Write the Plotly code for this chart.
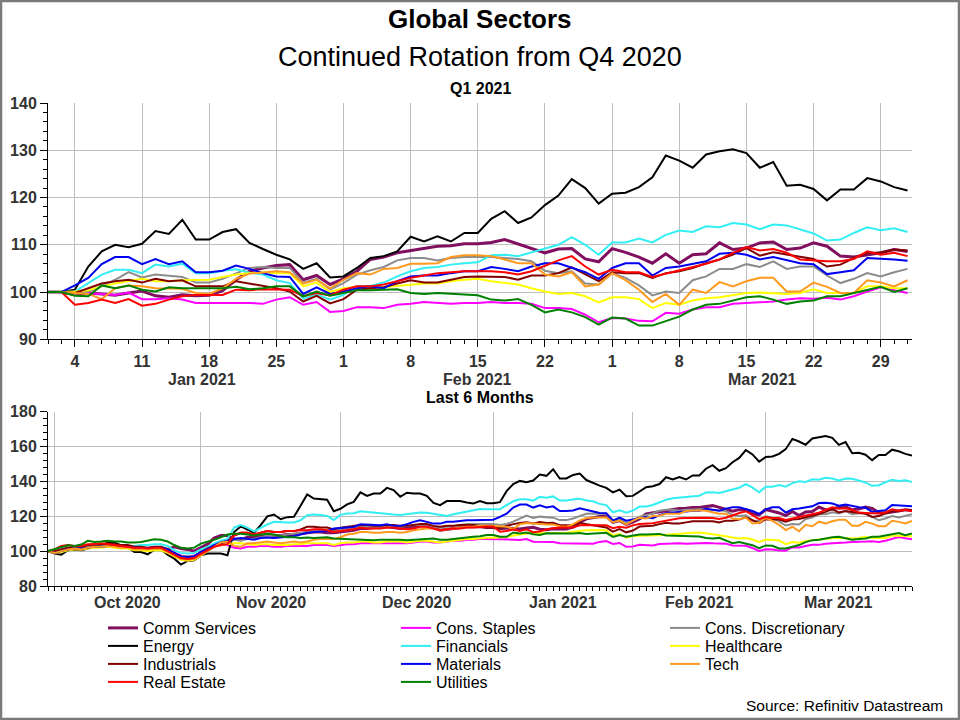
import pandas as pd
import plotly.graph_objects as go

# ---------------- dates (weekday data, Datastream style) ----------------
q1_dates = pd.bdate_range("2020-12-31", "2021-03-31")   # Q1 2021 panel
m6_dates = pd.bdate_range("2020-09-30", "2021-03-31")   # last 6 months panel

sectors = ["Comm Services", "Cons. Staples", "Cons. Discretionary",
           "Energy", "Financials", "Healthcare",
           "Industrials", "Materials", "Tech",
           "Real Estate", "Utilities"]
colors = ["#80105F", "#FF00FF", "#8C8C8C",
          "#000000", "#33EEF2", "#FFFF00",
          "#800000", "#0000F0", "#FF9A1E",
          "#FF0000", "#008000"]

# ---------------- Q1 2021 (rebased 31 Dec 2020 = 100) ----------------
comm_q1 = [100, 100, 99.5, 99.8, 99.6, 99.3, 99.8, 100.2, 99.2, 98.9,
           99.4, 99.2, 99.3, 100.3, 102.6, 104.4, 105.1, 105.6, 105.8, 102.6,
           103.5, 101.6, 102.8, 104.4, 106.9, 107.4, 108.3, 108.8, 109.3, 109.7,
           109.8, 110.2, 110.2, 110.5, 111.1, 110.2, 109.3, 108.3, 109.1, 109.2,
           107, 106.4, 109.2, 108.4, 107.4, 106.1, 108.1, 106.1, 107.9, 108.1,
           110.4, 109, 109.3, 110.4, 110.6, 109, 109.3, 110.4, 109.7, 107.6,
           107.4, 107.9, 108.3, 109, 108.6]
staples_q1 = [100, 100, 99.8, 99.8, 99.6, 99.4, 99.9, 98.5, 98.5, 98.7,
              98.4, 97.7, 97.7, 97.7, 97.7, 97.7, 97.5, 98.4, 98.9, 97.3,
              97.9, 95.8, 96, 96.8, 96.8, 96.6, 97.3, 97.5, 97.9, 97.7,
              97.5, 97.7, 97.7, 97.9, 97.7, 97.7, 97.5, 96.6, 96.6, 96.4,
              95.2, 93.6, 94.5, 94.4, 93.9, 93.8, 95.6, 95.4, 96.3, 96.8,
              96.8, 97.5, 97.7, 97.8, 98, 98.4, 98.7, 98.6, 98.8, 98.4,
              99.1, 100.1, 101, 100.4, 99.8]
disc_q1 = [100, 100, 99.6, 100.1, 101.2, 102.6, 104.2, 103.1, 103.7, 103.5,
           103.2, 102, 102, 102.8, 104, 105.1, 105.3, 105.1, 105.1, 102,
           102.8, 100.5, 101.9, 103.7, 104.6, 105.3, 106.7, 107.2, 107.2, 106.7,
           107.2, 107.4, 107.4, 107.4, 107.2, 107, 106.5, 104.5, 104, 104.4,
           101.8, 101.6, 104, 103, 101.4, 99.3, 100.1, 99.8, 102.5, 103.3,
           104.9, 104.9, 105.9, 105.3, 106.5, 104.9, 105.4, 105.4, 103.5, 101.9,
           102.8, 104, 103.3, 104.2, 104.9]
energy_q1 = [100, 100, 100.5, 105.4, 108.6, 110, 109.5, 110.2, 112.9, 112.3,
             115.3, 111.1, 111.1, 112.7, 113.3, 110.4, 109.1, 107.9, 106.9, 104.9,
             106.1, 103.1, 103.3, 105.1, 107.2, 107.6, 108.6, 111.7, 110.7, 111.8,
             110.7, 112.5, 112.5, 115.5, 117.1, 114.6, 115.8, 118.4, 120.4, 123.9,
             122, 118.7, 120.8, 121, 122.2, 124.3, 128.9, 127.8, 126.3, 129.1,
             129.8, 130.2, 129.4, 126.3, 127.5, 122.5, 122.7, 121.8, 119.4, 121.7,
             121.7, 124.1, 123.4, 122.2, 121.5]
fin_q1 = [100, 100, 100.1, 101.9, 103.7, 104.7, 104.7, 104, 105.8, 105.4,
          106, 104, 104, 104.5, 104.8, 104.1, 103.7, 102.5, 101.9, 98.6,
          99.5, 98.4, 99.4, 101.3, 101.3, 102, 103.3, 104.4, 105.1, 105.3,
          105.8, 106.1, 106.3, 107.8, 107.9, 107.6, 108.4, 109.2, 110, 111.6,
          110, 107.9, 110.5, 110.5, 111.3, 110.5, 112.1, 113, 112.7, 113.9,
          113.7, 114.6, 114.3, 113.3, 114.3, 114.1, 113.2, 112.4, 110.9, 111.1,
          112.5, 113.7, 113.1, 113.5, 112.7]
health_q1 = [100, 100, 100.1, 100.4, 101.2, 101.8, 102.3, 102.8, 102.3, 102.3,
             102.5, 102.6, 102.6, 103.2, 103.7, 104, 104.2, 104, 104, 101.2,
             102, 100, 100.8, 101, 101, 101, 101.3, 101.6, 101.8, 101.8,
             102.3, 102.6, 102.8, 102.3, 101.9, 101.6, 100.8, 100.1, 99.6, 99.8,
             99.1, 97.8, 98.9, 98.9, 98.5, 96.6, 97.7, 97.3, 98.2, 98.7,
             98.9, 99.4, 99.8, 99.9, 99.8, 99.6, 99.8, 100.6, 99.8, 99.8,
             99.8, 101.2, 101.2, 100.8, 100.8]
ind_q1 = [100, 100, 99.8, 100.8, 101.8, 102.3, 102.6, 102, 102.8, 102.3,
          102.5, 101.2, 101.2, 101.2, 102.3, 101.8, 101.4, 100.8, 100.1, 98,
          99.2, 97.6, 98.5, 100.5, 100.8, 101, 101.8, 102.5, 102, 102,
          102.6, 103.2, 103.3, 103.3, 103.2, 102.6, 103.5, 103.5, 104, 105.2,
          103.7, 102.3, 104.2, 104, 104, 103, 104, 104.4, 105.1, 106.1,
          106.9, 107.9, 109.3, 107.7, 108.4, 107.9, 107.4, 107, 105.4, 105.8,
          107.2, 108.3, 108.3, 109, 108.8]
mat_q1 = [100, 100, 101.4, 103, 105.9, 107.4, 107.4, 105.9, 107, 105.9,
          106.5, 104.2, 104.2, 104.5, 105.6, 104.9, 104, 103.3, 103.2, 99.6,
          101, 99.6, 100.1, 100.8, 101.2, 100.8, 102.3, 103.3, 103.5, 103.5,
          104, 104.4, 104.4, 105.3, 104.9, 104.4, 105.4, 106.1, 106.1, 105.1,
          104.2, 102.8, 105.1, 106.1, 106.1, 103.5, 105.1, 105.4, 105.9, 106.5,
          108.1, 108.3, 107.9, 106.9, 107.4, 106.7, 106.1, 105.9, 103.8, 104.2,
          104.6, 107.2, 107.1, 106.9, 106.6]
tech_q1 = [100, 100, 99.8, 99.6, 98.5, 100.8, 101.4, 101.2, 100.8, 100.7,
           100.7, 99.8, 99.6, 100.8, 102.8, 103.9, 104.2, 104.4, 104.2, 101.8,
           102.6, 100.8, 102.6, 104, 103.7, 104.9, 105.1, 106, 106, 106.1,
           107.4, 107.8, 107.8, 107.6, 106.9, 106.1, 106.1, 103.7, 103.3, 104.2,
           101.2, 101.6, 104, 102.5, 100.5, 97.9, 99.6, 97.3, 100.5, 99.8,
           102.1, 101.2, 102.3, 103, 103, 100.1, 100.1, 102, 101.1, 99.8,
           99.8, 102.5, 102, 101.2, 102.5]
re_q1 = [100, 100, 97.3, 97.7, 98.4, 97.7, 98.5, 97.1, 97.5, 98.4,
         99.1, 99.4, 99.4, 99.4, 100.5, 100.4, 100.6, 100.6, 100.5, 99.1,
         99.8, 99.3, 100.5, 101.2, 101.2, 101.6, 102.3, 103, 103.5, 104,
         104.2, 104.4, 104.4, 104.4, 104.2, 103.7, 104.4, 105.6, 106.7, 107.6,
         105.4, 103.7, 104.7, 104.2, 104.2, 103.2, 103.9, 104.6, 105.3, 106,
         106.9, 108.3, 109.5, 108.8, 109.1, 108.3, 106.9, 106.7, 106.5, 106.5,
         107, 108.6, 107.9, 108.3, 107.6]
util_q1 = [100, 100, 99.2, 99.1, 101.4, 100.8, 101.4, 100.5, 100.1, 101,
           100.8, 100.8, 100.8, 100.8, 101.1, 100.6, 100.8, 101.2, 101.2, 99.1,
           100.1, 99.2, 99.8, 100.4, 100.4, 100.5, 100.6, 99.8, 99.6, 99.8,
           99.6, 99.4, 99.3, 98.4, 98.2, 98.5, 97.3, 95.7, 96.3, 95.7,
           94.7, 93.1, 94.6, 94.4, 92.9, 92.9, 93.9, 94.8, 96.3, 97.3,
           97.5, 98.2, 98.9, 99.1, 98.4, 97.5, 98, 98.2, 99.1, 99.1,
           99.8, 100.4, 101.1, 100, 100.8]

# ---------------- Last 6 months (rebased 30 Sep 2020 = 100) ----------------
comm_6m = [100, 99.5, 100.5, 101.5, 101, 101.5, 102.5, 103, 103.5, 103.5,
           103, 102.5, 102.5, 101.5, 101.5, 101.5, 102, 102, 101, 102.5,
           101.5, 101, 100, 102, 104, 107.5, 109, 109, 107, 106.5,
           108, 108, 108.5, 109.5, 109, 109, 109.5, 109.5, 110, 110.5,
           111, 111, 110.5, 110.5, 111, 111.5, 112, 113, 113, 113.5,
           113.5, 114, 113.5, 113, 113.5, 114, 114.5, 114.5, 113.5, 112,
           112.5, 113, 113.5, 114, 114, 114, 113.5,
           113.5, 112.9, 113.3, 113, 112.7, 113.3, 113.7, 112.6, 112.3, 112.8,
           112.6, 112.7, 113.8, 116.5, 118.5, 119.3, 119.9, 120.1, 116.5, 117.5,
           115.3, 116.7, 118.5, 121.3, 121.9, 122.9, 123.5, 124.1, 124.5, 124.6,
           125.1, 125.1, 125.4, 126.1, 125.1, 124.1, 122.9, 123.8, 123.9, 121.4,
           120.8, 123.9, 123, 121.9, 120.4, 122.7, 120.4, 122.5, 122.7, 125.3,
           123.7, 124.1, 125.3, 125.5, 123.7, 124.1, 125.3, 124.5, 122.1, 121.9,
           122.5, 122.9, 123.7, 123.3]
staples_6m = [100, 99.5, 100, 101, 101, 101, 102, 102.5, 102.5, 103,
              102.5, 102, 102, 101.5, 101.5, 101, 101.5, 101.5, 100.5, 99,
              97.5, 97, 97.5, 99, 100.5, 102.5, 103.5, 103.5, 102, 101.5,
              102.5, 102.5, 103, 103, 102.5, 102.5, 103, 103, 103, 103,
              103.5, 103.5, 103.5, 103, 103.5, 104, 104, 104.5, 104.5, 104.5,
              104.5, 104.5, 104.5, 104.5, 104.5, 105, 105.5, 105.5, 105, 105,
              105.5, 106, 106, 106.5, 106.5, 107, 107,
              107, 106.8, 106.8, 106.6, 106.4, 106.9, 105.4, 105.4, 105.6, 105.3,
              104.5, 104.5, 104.5, 104.5, 104.5, 104.3, 105.3, 105.8, 104.1, 104.7,
              102.5, 102.7, 103.6, 103.6, 103.3, 104.1, 104.3, 104.7, 104.5, 104.3,
              104.5, 104.5, 104.7, 104.5, 104.5, 104.3, 103.3, 103.3, 103.1, 101.8,
              100.1, 101.1, 101, 100.4, 100.3, 102.3, 102.1, 103, 103.6, 103.6,
              104.3, 104.5, 104.6, 104.9, 105.3, 105.6, 105.5, 105.7, 105.3, 106,
              107.1, 108.1, 107.4, 106.8]
disc_6m = [100, 99.5, 100, 101, 101.5, 101.5, 102.5, 103, 103, 103.5,
           103, 102.5, 102.5, 101.5, 101.5, 101, 101.5, 101.5, 100, 98.5,
           97, 97, 97, 99.5, 101.5, 104, 105.5, 106, 106.5, 106,
           107, 107, 108, 109, 109, 109, 109.5, 110, 110.5, 111,
           111.5, 112, 111.5, 111.5, 112.5, 113, 113, 114, 114, 114,
           114, 114.5, 114, 114, 114.5, 115, 115, 115, 114, 113.5,
           114, 114.5, 115, 115.5, 115.5, 115.5, 115.5,
           115.5, 115, 115.6, 116.9, 118.5, 120.4, 119.1, 119.8, 119.5, 119.2,
           117.8, 117.8, 118.7, 120.1, 121.4, 121.6, 121.4, 121.4, 117.8, 118.7,
           116.1, 117.7, 119.8, 120.8, 121.6, 123.2, 123.8, 123.8, 123.2, 123.8,
           124.1, 124.1, 124.1, 123.8, 123.6, 123, 120.7, 120.1, 120.6, 117.6,
           117.3, 120.1, 119, 117.1, 114.7, 115.6, 115.3, 118.4, 119.3, 121.2,
           121.2, 122.3, 121.6, 123, 121.2, 121.7, 121.7, 119.5, 117.7, 118.7,
           120.1, 119.3, 120.4, 121.2]
energy_6m = [100, 98.6, 98, 100.5, 101, 100.5, 101.5, 103, 103, 104.9,
             104.9, 103.3, 102.4, 99.5, 99.5, 98.2, 100.9, 101, 98, 95.7,
             92.3, 94.4, 94.8, 97.6, 98.6, 98.6, 98.6, 97.6, 111, 114.2,
             112.6, 110.6, 114.9, 120, 121, 118.3, 119.5, 119.7, 126, 132.5,
             130.2, 129.9, 129.5, 122.9, 124.3, 126.8, 128.3, 133.7, 131.7, 133.1,
             133.1, 136.3, 135, 131.2, 133.5, 133.1, 133.1, 131.7, 127.7, 126.4,
             128.7, 128.7, 128.7, 127.9, 127.3, 128.7, 127.5,
             127.5, 128.1, 134.4, 138.5, 140.3, 139.6, 140.5, 143.9, 143.2, 147,
             141.7, 141.7, 143.7, 144.5, 140.8, 139.1, 137.6, 136.3, 133.7, 135.3,
             131.5, 131.7, 134, 136.7, 137.2, 138.5, 142.4, 141.1, 142.5, 141.1,
             143.4, 143.4, 147.3, 149.3, 146.1, 147.6, 151, 153.5, 158, 155.5,
             151.3, 154, 154.3, 155.8, 158.5, 164.4, 162.9, 161, 164.6, 165.5,
             166, 165, 161, 162.6, 156.2, 156.4, 155.3, 152.2, 155.2, 155.2,
             158.2, 157.3, 155.8, 154.9]
fin_6m = [100, 99.5, 100.5, 101.5, 101.5, 101, 102, 102.5, 102.5, 103.5,
          103.5, 103, 103, 103, 103.5, 103.5, 104, 104, 103, 100.5,
          99, 98.6, 99, 101, 102.5, 104.5, 106, 107, 113.5, 114.9,
          113.5, 111.3, 113.3, 115.3, 116.8, 116.5, 116.4, 116.5, 117.7, 120.6,
          121, 120.8, 120.2, 117.9, 120.8, 121.6, 121.8, 122.9, 122.5, 121.8,
          121.6, 121.4, 121, 120.8, 121.3, 121.8, 122.2, 122, 121.5, 120.6,
          120.2, 121.2, 122, 122.6, 123.5, 124.2, 124,
          124, 124.1, 126.4, 128.6, 129.8, 129.8, 129, 131.2, 130.7, 131.4,
          129, 129, 129.6, 130, 129.1, 128.6, 127.1, 126.4, 122.3, 123.4,
          122, 123.3, 125.6, 125.6, 126.5, 128.1, 129.5, 130.3, 130.6, 131.2,
          131.6, 131.8, 133.7, 133.8, 133.4, 134.4, 135.4, 136.4, 138.4, 136.4,
          133.8, 137, 137, 138, 137, 139, 140.1, 139.7, 141.2, 141,
          142.1, 141.7, 140.5, 141.7, 141.5, 140.4, 139.4, 137.5, 137.8, 139.5,
          141, 140.2, 140.7, 139.7]
health_6m = [100, 99, 99.5, 100.5, 101, 101, 101.5, 102, 102, 102.5,
             102, 101.5, 101.5, 100.5, 100.5, 100, 100.5, 100.5, 99, 97,
             95, 94.5, 95, 97.5, 100, 102.5, 103.5, 104, 104.5, 104.5,
             104, 103.5, 104, 104, 103.5, 103.5, 103.5, 104, 104, 104.5,
             104.5, 104.5, 104.5, 103.5, 104.5, 105, 105, 105.5, 105.5, 105,
             105, 105.5, 105.5, 105.5, 105, 105.5, 106, 106, 105.5, 105,
             105.5, 106, 106.5, 107, 107, 107.5, 107.7,
             107.7, 107.8, 108.1, 109, 109.6, 110.2, 110.7, 110.2, 110.2, 110.4,
             110.5, 110.5, 111.1, 111.7, 112, 112.2, 112, 112, 109, 109.9,
             107.7, 108.6, 108.8, 108.8, 108.8, 109.1, 109.4, 109.6, 109.6, 110.2,
             110.5, 110.7, 110.2, 109.7, 109.4, 108.6, 107.8, 107.3, 107.5, 106.7,
             105.3, 106.5, 106.5, 106.1, 104, 105.2, 104.8, 105.8, 106.3, 106.5,
             107.1, 107.5, 107.6, 107.5, 107.3, 107.5, 108.3, 107.5, 107.5, 107.5,
             109, 109, 108.6, 108.6]
ind_6m = [100, 100, 101, 102, 102.5, 102.5, 103.5, 104, 104, 104.5,
          104, 103.5, 103.5, 102.5, 102.5, 102, 102.5, 102.5, 101, 99,
          97, 96.5, 97, 99.5, 101.5, 103, 104.5, 105.5, 109, 110.5,
          110.5, 109.5, 110.5, 111.5, 111, 111, 111.5, 111.5, 112.5, 114,
          114, 113.5, 113.5, 112.5, 113.5, 114, 114.5, 115, 115, 114.5,
          114.5, 115, 115, 114.5, 114.5, 115, 115.5, 115.5, 114.5, 114,
          114.5, 114.5, 115, 115, 115, 114.5, 113.5,
          113.5, 113.3, 114.4, 115.5, 116.1, 116.5, 115.8, 116.7, 116.1, 116.3,
          114.9, 114.9, 114.9, 116.1, 115.5, 115.1, 114.4, 113.6, 111.2, 112.6,
          110.8, 111.8, 114.1, 114.4, 114.6, 115.5, 116.3, 115.8, 115.8, 116.5,
          117.1, 117.2, 117.2, 117.1, 116.5, 117.5, 117.5, 118.1, 119.4, 117.7,
          116.1, 118.3, 118.1, 118.1, 116.9, 118.1, 118.5, 119.3, 120.4, 121.3,
          122.5, 124.1, 122.2, 123, 122.5, 121.9, 121.4, 119.6, 120.1, 121.7,
          122.9, 122.9, 123.7, 123.5]
mat_6m = [100, 99, 100, 101, 101.5, 101.5, 102, 102.5, 102.5, 103,
          103, 102.5, 102.5, 102, 102, 101.5, 102, 102, 101, 99,
          97, 96.5, 97, 99.5, 101, 103.5, 105, 106, 107, 107.5,
          107, 106.5, 107.5, 107.8, 107.5, 107.8, 108, 108.5, 109.5, 110.5,
          111, 111.2, 111.5, 113, 113.4, 113.7, 113.9, 115.4, 115.2, 114.9,
          114.9, 115.4, 114.5, 114.5, 115.4, 116.8, 117.7, 116.8, 115.8, 115.8,
          116.8, 116.8, 117.4, 117.7, 117.7, 117.7, 118,
          118, 119.7, 121.5, 125, 126.7, 126.7, 125, 126.3, 125, 125.7,
          123, 123, 123.3, 124.6, 123.8, 122.7, 121.9, 121.8, 117.5, 119.2,
          117.5, 118.1, 118.9, 119.4, 118.9, 120.7, 121.9, 122.1, 122.1, 122.7,
          123.2, 123.2, 124.3, 123.8, 123.2, 124.4, 125.2, 125.2, 124, 123,
          121.3, 124, 125.2, 125.2, 122.1, 124, 124.4, 125, 125.7, 127.6,
          127.8, 127.3, 126.1, 126.7, 125.9, 125.2, 125, 122.5, 123, 123.4,
          126.5, 126.4, 126.1, 125.8]
tech_6m = [100, 99, 100, 101, 101.5, 101, 102, 102.5, 102.5, 103,
           102.5, 102, 102, 101, 101, 101, 101.5, 101.5, 99.5, 97.5,
           95.5, 95, 95.5, 97.5, 100, 103, 105, 105.5, 103, 102.5,
           104.5, 104.5, 105, 105.5, 105, 104.5, 105, 105.5, 105, 105.5,
           106.5, 107, 107, 107, 108, 109.5, 110, 111, 111, 110.5,
           110.5, 111, 111, 110.5, 111, 112, 112.5, 113, 113, 112,
           112.5, 113, 113.5, 114, 114, 114.5, 114.5,
           114.5, 114.3, 114, 112.8, 115.4, 116.1, 115.9, 115.4, 115.3, 115.3,
           114.3, 114, 115.4, 117.7, 119, 119.3, 119.5, 119.3, 116.6, 117.5,
           115.4, 117.5, 119.1, 118.7, 120.1, 120.3, 121.4, 121.4, 121.5, 123,
           123.4, 123.4, 123.2, 122.4, 121.5, 121.5, 118.7, 118.3, 119.3, 115.9,
           116.3, 119.1, 117.4, 115.1, 112.1, 114, 111.4, 115.1, 114.3, 116.9,
           115.9, 117.1, 118, 118, 114.6, 114.6, 116.8, 115.8, 114.3, 114.3,
           117.4, 116.8, 115.9, 117.4]
re_6m = [100, 101, 103, 103.5, 103, 103, 104, 104, 104.5, 104,
         103.5, 103, 102.5, 102, 102, 101.5, 102, 102, 100, 98,
         96, 95.5, 96, 98.5, 100.5, 102.5, 103.5, 104, 109, 110.5,
         110.5, 109.5, 110.5, 111.5, 111, 111, 111.5, 111.5, 112, 112,
         112.5, 112.5, 112, 111, 111.5, 112, 112.5, 113.5, 113, 113,
         113, 113.5, 113.5, 113, 112.5, 113, 114, 114, 113, 112,
         112.5, 113, 113, 113.5, 113.5, 114, 114.2,
         114.2, 111.1, 111.6, 112.4, 111.6, 112.5, 110.9, 111.3, 112.4, 113.2,
         113.5, 113.5, 113.5, 114.8, 114.7, 114.9, 114.9, 114.8, 113.2, 114,
         113.4, 114.8, 115.6, 115.6, 116, 116.8, 117.6, 118.2, 118.8, 119,
         119.2, 119.2, 119.2, 119, 118.4, 119.2, 120.6, 121.9, 122.9, 120.4,
         118.4, 119.6, 119, 119, 117.9, 118.7, 119.5, 120.3, 121.1, 122.1,
         123.7, 125.1, 124.3, 124.6, 123.7, 122.1, 121.9, 121.6, 121.6, 122.2,
         124, 123.2, 123.7, 122.9]
util_6m = [100, 101, 102.4, 103.4, 103, 103.8, 105.9, 105.3, 105.5, 106,
           105.5, 105.5, 105, 104.9, 105.3, 106, 106.8, 106.5, 105.5, 103.5,
           101.9, 101.5, 102, 104.3, 105.3, 106.5, 108, 109.5, 110, 110,
           109.5, 109, 109.5, 110, 109.5, 108.5, 108, 108, 107.5, 107.8,
           107.5, 107.8, 108, 107.2, 107, 106.8, 106.5, 106.5, 106.2, 106.2,
           106.5, 106.5, 106.8, 106.5, 106.2, 106.5, 106.8, 107, 107.2, 106.5,
           106.5, 107, 107.5, 108, 108.2, 108.5, 109.2,
           109.2, 108.3, 108.2, 110.7, 110.1, 110.7, 109.7, 109.3, 110.3, 110.1,
           110.1, 110.1, 110.1, 110.4, 109.9, 110.1, 110.5, 110.5, 108.2, 109.3,
           108.3, 109, 109.6, 109.6, 109.7, 109.9, 109, 108.8, 109, 108.8,
           108.5, 108.4, 107.5, 107.2, 107.6, 106.2, 104.5, 105.2, 104.5, 103.4,
           101.7, 103.3, 103.1, 101.5, 101.5, 102.5, 103.5, 105.2, 106.3, 106.5,
           107.3, 108, 108.2, 107.5, 106.5, 107, 107.2, 108.2, 108.2, 109,
           109.6, 110.4, 109.2, 110.1]

q1_series = [comm_q1, staples_q1, disc_q1, energy_q1, fin_q1, health_q1,
             ind_q1, mat_q1, tech_q1, re_q1, util_q1]
m6_series = [comm_6m, staples_6m, disc_6m, energy_6m, fin_6m, health_6m,
             ind_6m, mat_6m, tech_6m, re_6m, util_6m]
for s in q1_series:
    assert len(s) == len(q1_dates), len(s)
for s in m6_series:
    assert len(s) == len(m6_dates), len(s)

# ---------------- geometry helpers (pixel -> paper) ----------------
W, H = 960, 720
ML, MR, MT, MB = 48, 48, 103, 134
PW, PH = W - ML - MR, H - MT - MB
def px(x):
    return (x - ML) / PW
def py(y):
    return (H - MB - y) / PH

FONT = "Arial, 'Liberation Sans', Helvetica, sans-serif"
LBL = "#333333"
GRID = "#BEBEBE"

fig = go.Figure()
for i, name in enumerate(sectors):
    lw = 3 if name == "Comm Services" else 2
    leg = "legend" if i == 0 else f"legend{i + 1}"
    fig.add_trace(go.Scatter(x=q1_dates, y=q1_series[i], mode="lines", name=name,
                             line=dict(color=colors[i], width=lw),
                             xaxis="x", yaxis="y", legend=leg, legendgroup=name,
                             showlegend=True, hoverinfo="skip"))
    fig.add_trace(go.Scatter(x=m6_dates, y=m6_series[i], mode="lines", name=name,
                             line=dict(color=colors[i], width=lw),
                             xaxis="x2", yaxis="y2", legendgroup=name,
                             showlegend=False, hoverinfo="skip"))

weekend = [dict(bounds=["sat", "mon"])]
tickfont = dict(family=FONT, size=16, color=LBL, weight="bold")

def frac_date(dates, idx):
    i = int(idx)
    return dates[i] + pd.Timedelta(days=idx - i)

# top x axis: Mondays labelled with day number
mondays = [d for d in q1_dates if d.weekday() == 0]
q1_end = frac_date(q1_dates, len(q1_dates) - 1 + 0.33)
dom_top = [py(339.3), 1.0]
dom_bot = [0.0, py(411.7)]

common_x = dict(type="date", rangebreaks=weekend, showline=True, linecolor="black",
                linewidth=1, ticks="outside", ticklen=7, tickcolor="black",
                showgrid=True, gridcolor=GRID, gridwidth=1, zeroline=False,
                automargin=False, tickfont=tickfont, fixedrange=True)

fig.update_layout(
    xaxis=dict(common_x, domain=[0, 1], anchor="y",
               range=[q1_dates[0], q1_end],
               tickmode="array", tickvals=mondays,
               ticktext=[str(d.day) for d in mondays],
               minor=dict(tickmode="array", tickvals=list(q1_dates), ticks="outside",
                          ticklen=4, tickcolor="black", showgrid=False)),
    xaxis2=dict(common_x, domain=[0, 1], anchor="y2",
                range=[m6_dates[0], m6_dates[-1]],
                tickmode="array",
                tickvals=[m6_dates[(m6_dates.month == m).argmax()] for m in [10, 11, 12, 1, 2, 3]],
                ticktext=[""] * 6,
                minor=dict(tickmode="array", tickvals=list(m6_dates), ticks="outside",
                           ticklen=4, tickcolor="black", showgrid=False)),
)

def yax(domain, rng, dtick, minor_dtick, side, anchor, overlay=None):
    d = dict(domain=domain, range=rng, tickmode="linear", tick0=rng[0], dtick=dtick,
             side=side, anchor=anchor, showline=True, linecolor="black", linewidth=1,
             ticks="outside", ticklen=7, tickcolor="black", tickfont=tickfont,
             minor=dict(dtick=minor_dtick, tick0=rng[0], ticks="outside", ticklen=4,
                        tickcolor="black", showgrid=False),
             showgrid=overlay is None, gridcolor=GRID, gridwidth=1,
             zeroline=False, automargin=False, fixedrange=True)
    if overlay:
        d["overlaying"] = overlay
    return d

fig.update_layout(
    yaxis=yax(dom_top, [90, 140], 10, 2, "left", "x"),
    yaxis3=yax(dom_top, [90, 140], 10, 2, "right", "x", overlay="y"),
    yaxis2=yax(dom_bot, [80, 180], 20, 4, "left", "x2"),
    yaxis4=yax(dom_bot, [80, 180], 20, 4, "right", "x2", overlay="y2"),
)

# ---------------- month labels (centred between month starts) ----------------
ann = []
def month_labels(dates, xref, end_idx, ypix):
    starts = []
    for m in sorted(set(zip(dates.year, dates.month))):
        idx = int(((dates.year == m[0]) & (dates.month == m[1])).argmax())
        if idx > 0:
            starts.append((m, idx))
    for k, (m, idx) in enumerate(starts):
        nxt = starts[k + 1][1] if k + 1 < len(starts) else end_idx
        mid = (idx + nxt) / 2
        label = pd.Timestamp(year=m[0], month=m[1], day=1).strftime("%b %Y")
        ann.append(dict(x=frac_date(dates, mid), xref=xref, y=py(ypix), yref="paper",
                        text=label, showarrow=False, xanchor="center", yanchor="middle",
                        font=dict(family=FONT, size=16, color=LBL, weight="bold")))

month_labels(q1_dates, "x", len(q1_dates) - 1 + 0.33, 379)
month_labels(m6_dates, "x2", len(m6_dates) - 1, 602.5)

def text(x, y, s, size, bold=False, xanchor="center", color="black"):
    ann.append(dict(x=px(x), y=py(y), xref="paper", yref="paper", text=s, showarrow=False,
                    xanchor=xanchor, yanchor="middle",
                    font=dict(family=FONT, size=size, color=color,
                              weight="bold" if bold else "normal")))

text(480, 19, "Global Sectors", 26, bold=True)
text(480, 57, "Continued Rotation from Q4 2020", 27)
text(480, 88, "Q1 2021", 16, bold=True)
text(480, 397, "Last 6 Months", 16, bold=True)
text(945, 705, "Source: Refinitiv Datastream", 15.5, xanchor="right")

# ---------------- legends: 3 columns x 4 rows ----------------
col_x = [103, 396, 665]
row_y = [628, 646, 664, 682]
legends = {}
for i, name in enumerate(sectors):
    r, c = divmod(i, 3)
    key = "legend" if i == 0 else f"legend{i + 1}"
    legends[key] = dict(x=px(col_x[c]), y=py(row_y[r]), xref="paper", yref="paper",
                        xanchor="left", yanchor="middle", orientation="v",
                        bgcolor="rgba(0,0,0,0)", borderwidth=0,
                        font=dict(family=FONT, size=16, color="black"))

fig.update_layout(**legends)

fig.update_layout(
    width=W, height=H, template="none",
    margin=dict(l=ML, r=MR, t=MT, b=MB, autoexpand=False),
    paper_bgcolor="white", plot_bgcolor="white",
    annotations=ann, showlegend=True, hovermode=False,
    shapes=[dict(type="rect", xref="paper", yref="paper",
                 x0=px(1), x1=px(959), y0=py(719), y1=py(1),
                 line=dict(color="#7A7A7A", width=2.5), fillcolor="rgba(0,0,0,0)",
                 layer="above")],
)

fig.write_html("out.html",
               config={"displayModeBar": False, "staticPlot": True},
               post_script="document.body.style.margin='0';document.body.style.padding='0';"
                           "document.body.style.overflow='hidden';")
